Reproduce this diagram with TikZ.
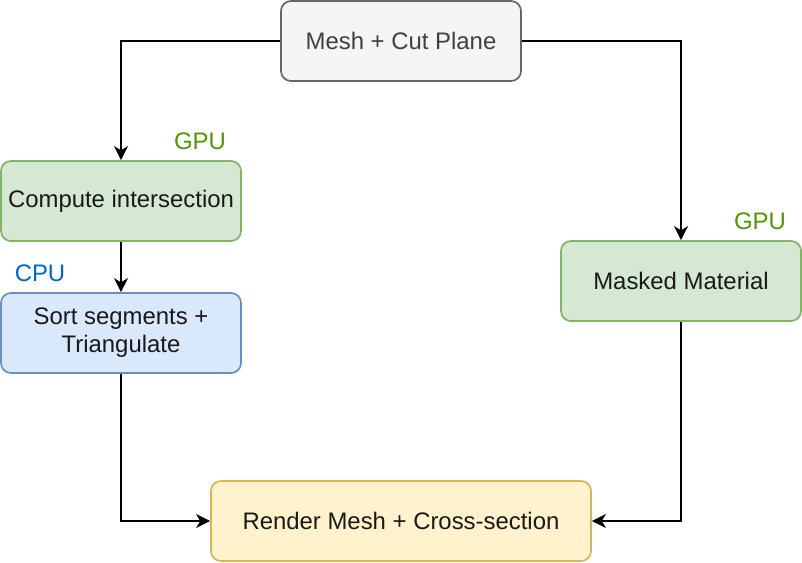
\documentclass[tikz,border=0pt]{standalone}
\usepackage{fontspec}
\setmainfont{Liberation Sans}
\usepackage{xcolor}
\usetikzlibrary{arrows.meta}
\definecolor{greyfill}{HTML}{F5F5F5}
\definecolor{greyline}{HTML}{666666}
\definecolor{greenfill}{HTML}{D5E8D4}
\definecolor{greenline}{HTML}{82B366}
\definecolor{bluefill}{HTML}{DAE8FC}
\definecolor{blueline}{HTML}{6C8EBF}
\definecolor{yellowfill}{HTML}{FFF2CC}
\definecolor{yellowline}{HTML}{D6B656}
\definecolor{gputext}{HTML}{4D9900}
\definecolor{cputext}{HTML}{0066CC}
\tikzset{
	box/.style={draw, rounded corners=0.25cm, line width=1.2pt, minimum width=6cm, minimum height=2cm, align=center, text=black!90, font=\fontsize{17}{20}\selectfont},
	flow/.style={line width=1.2pt, -{Stealth[length=10pt,width=10pt,inset=3pt]}},
	tag/.style={font=\fontsize{17}{20}\selectfont}
}
\begin{document}
\begin{tikzpicture}[x=0.025cm,y=-0.025cm]
	\useasboundingbox (0,0) rectangle (802,562);
	\node[box, fill=greyfill, draw=greyline, text=black!75] (mesh) at (401,41) {Mesh + Cut Plane};
	\node[box, fill=greenfill, draw=greenline] (compute) at (121,201) {Compute intersection};
	\node[box, fill=bluefill, draw=blueline] (sort) at (121,333) {Sort segments +\\Triangulate};
	\node[box, fill=greenfill, draw=greenline] (masked) at (681,281) {Masked Material};
	\node[box, fill=yellowfill, draw=yellowline, minimum width=9.5cm] (render) at (401,521) {Render Mesh + Cross-section};
	
	\node[tag, text=gputext] (gpuleft) at (200,141) {GPU};
	\node[tag, text=gputext] (gpuright) at (760,221) {GPU};
	\node[tag, text=cputext] (cpu) at (40,273) {CPU};
	
	\draw[flow] (mesh.west) -| (compute.north);
	\draw[flow] (mesh.east) -| (masked.north);
	\draw[flow] (compute.south) -- (sort.north);
	\draw[flow] (sort.south) |- (render.west);
	\draw[flow] (masked.south) |- (render.east);
\end{tikzpicture}
\end{document}
